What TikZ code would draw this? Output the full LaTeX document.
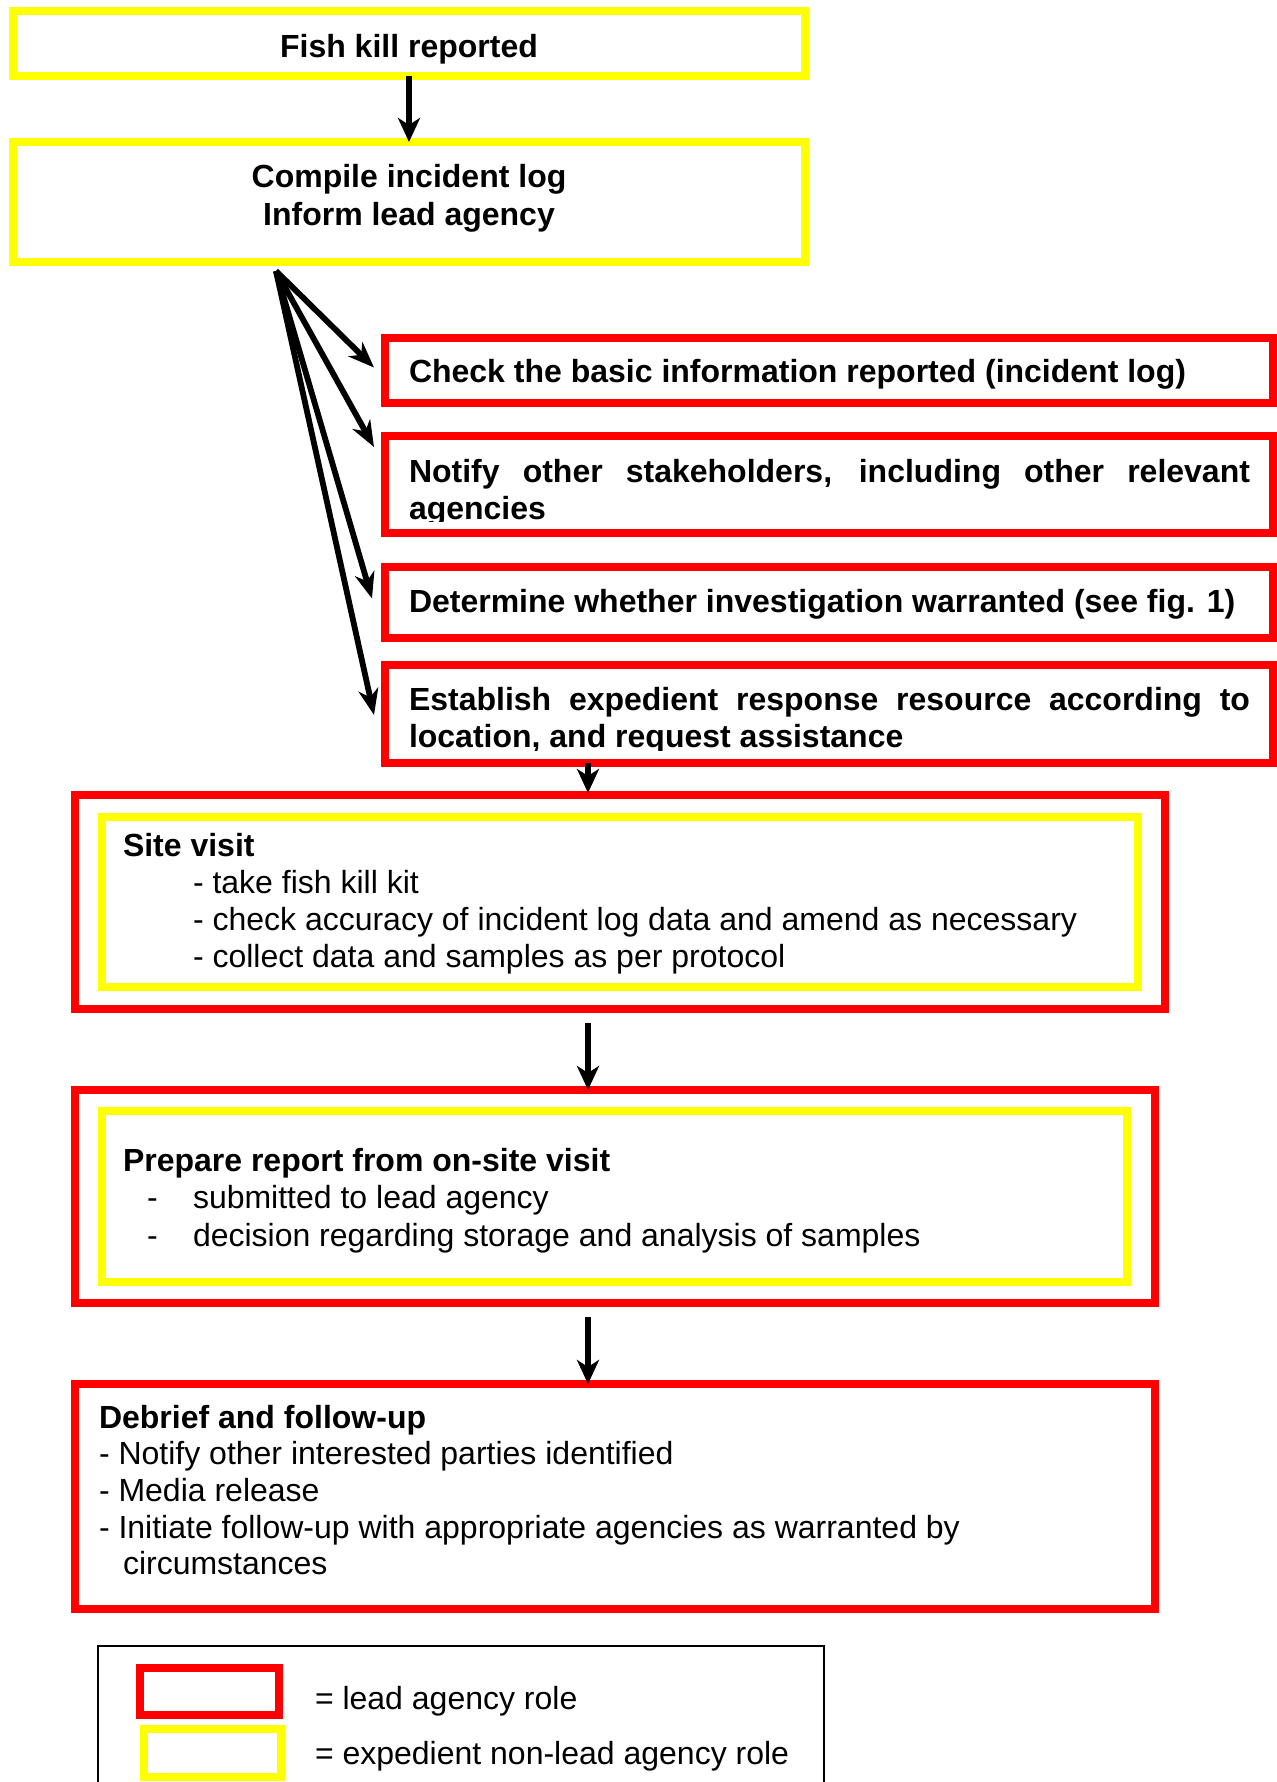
\documentclass[tikz,border=0pt]{standalone}
\usepackage{fontspec}
\setmainfont{Liberation Sans}
\usetikzlibrary{arrows.meta,fit,calc}
\definecolor{rd}{RGB}{255,0,0}
\definecolor{yl}{RGB}{255,255,0}
\tikzset{
  box/.style={rectangle, inner sep=0pt, outer sep=0pt, line width=3.75pt},
  redbox/.style={box, draw=rd},
  yelbox/.style={box, draw=yl},
  txt/.style={inner sep=0pt, outer sep=0pt, anchor=base west, font=\fontsize{16}{18.5}\selectfont},
  btxt/.style={txt, font=\fontsize{16}{18.5}\selectfont\bfseries},
  ctxt/.style={btxt, anchor=base},
  varr/.style={line width=3.4pt, -{Stealth[length=12pt,width=11pt,inset=3.5pt]}},
  farr/.style={line width=2.9pt, -{Stealth[length=13pt,width=10pt,inset=4pt]}},
}
\begin{document}
\begin{tikzpicture}[x=0.5pt,y=-0.5pt]
\useasboundingbox (0,0) rectangle (1277,1782);
\clip (0,0) rectangle (1277,1782);
\fill[white] (0,0) rectangle (1277,1782);

% boxes
\node[yelbox, fit={(13,11) (805,76)}] (box1) {};
\node[yelbox, fit={(13,142) (805,262)}] (box2) {};
\node[redbox, fit={(385,338) (1273,403)}] (boxA) {};
\node[redbox, fit={(385,436) (1273,533)}] (boxB) {};
\node[redbox, fit={(385,567) (1273,638)}] (boxC) {};
\node[redbox, fit={(385,665) (1273,763)}] (boxD) {};
\node[redbox, fit={(75,795) (1165,1009)}] (sv) {};
\node[yelbox, fit={(102,817) (1138,987)}] (svin) {};
\node[redbox, fit={(75,1090) (1155,1303)}] (prep) {};
\node[yelbox, fit={(102,1111) (1127,1282)}] (prepin) {};
\node[redbox, fit={(75,1384) (1155,1609)}] (deb) {};
\node[rectangle, draw=black, line width=1pt, inner sep=0pt, fit={(98,1646) (824,1820)}] (leg) {};
\node[redbox, line width=4pt, fit={(140,1668) (279,1715)}] (legR) {};
\node[yelbox, line width=4pt, fit={(144,1729) (281,1777)}] (legY) {};

% texts
\node[ctxt] (t1) at (409,57.5) {Fish kill reported};
\node[ctxt] (t2a) at (409,187.5) {Compile incident log};
\node[ctxt] (t2b) at (409,225.5) {Inform lead agency};
\node[btxt] (tA) at (409,382.5) {Check the basic information reported (incident log)};
\node[btxt] (tB1) at (409,482) {\makebox[420.5pt][s]{Notify other stakeholders, including other relevant}};
\begin{scope}
  \clip (390,490) rectangle (1260,521);
  \node[btxt] (tB2) at (409,519) {agencies};
\end{scope}
\node[btxt] (tC) at (409,612) {Determine whether investigation warranted (see fig. 1)};
\node[btxt] (tD1) at (409,710) {\makebox[420.5pt][s]{Establish expedient response resource according to}};
\begin{scope}
  \clip (390,720) rectangle (1260,750);
  \node[btxt] (tD2) at (409,747) {location, and request assistance};
\end{scope}

\node[btxt] (s0) at (123,856.5) {Site visit};
\node[txt] (s1) at (193,893) {- take fish kill kit};
\node[txt] (s2) at (193,930) {- check accuracy of incident log data and amend as necessary};
\node[txt] (s3) at (193,967) {- collect data and samples as per protocol};

\node[btxt] (p0) at (123,1171.5) {Prepare report from on-site visit};
\node[txt] (p1d) at (147,1208) {-};
\node[txt] (p1) at (193,1208) {submitted to lead agency};
\node[txt] (p2d) at (147,1246) {-};
\node[txt] (p2) at (193,1246) {decision regarding storage and analysis of samples};

\node[btxt] (d0) at (99,1428) {Debrief and follow-up};
\node[txt] (d1) at (99,1464.5) {- Notify other interested parties identified};
\node[txt] (d2) at (99,1501) {- Media release};
\node[txt] (d3) at (99,1538) {- Initiate follow-up with appropriate agencies as warranted by};
\node[txt] (d4) at (123,1574.5) {circumstances};

\node[txt] (l1) at (315,1709) {= lead agency role};
\node[txt] (l2) at (315,1764.5) {= expedient non-lead agency role};

% connectors
\draw[varr] (box1.south) -- (box2.north);
\coordinate (fan) at (276,271);
\draw[farr] (fan) -- ($(boxA.west)+(-11,-3)$);
\draw[farr] (fan) -- ($(boxB.north west)+(-11,11)$);
\draw[farr] (fan) -- ($(boxC.west)+(-13,-4)$);
\draw[farr] (fan) -- ($(boxD.west)+(-11,1)$);
\coordinate (ax) at (588,0);
\draw[varr] (boxD.south -| ax) -- ([yshift=1pt]sv.north -| ax);
\draw[varr, shorten <=7pt] (sv.south -| ax) -- (prep.north -| ax);
\draw[varr, shorten <=7pt] (prep.south -| ax) -- (deb.north -| ax);
\end{tikzpicture}
\end{document}
